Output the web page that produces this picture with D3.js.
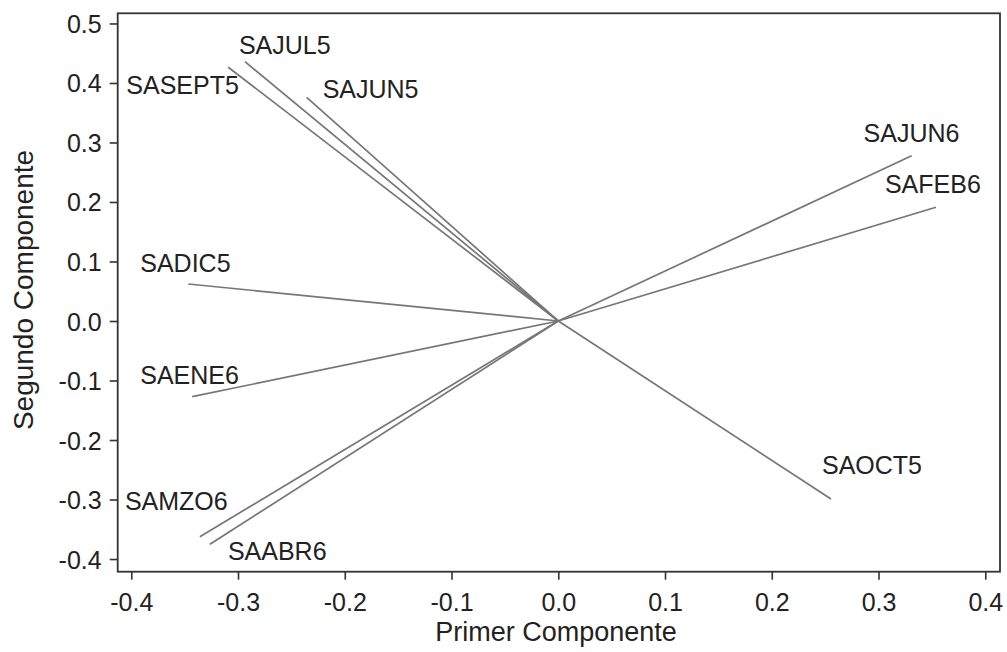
<!DOCTYPE html>
<html>
<head>
<meta charset="utf-8">
<script src="https://cdn.jsdelivr.net/npm/d3@7"></script>
<style>
  html, body { margin: 0; padding: 0; background: #fff; }
  svg { display: block; }
  text { font-family: "Liberation Sans", Arial, sans-serif; fill: #222; }
</style>
</head>
<body>
<svg id="chart" width="1007" height="652"></svg>
<script>
// ---- data ----
const variables = ["SAJUL5", "SASEPT5", "SAJUN5", "SAJUN6", "SAFEB6", "SAOCT5", "SADIC5", "SAENE6", "SAMZO6", "SAABR6"];
const primer    = [-0.2935, -0.3091, -0.2357, 0.3310, 0.3538, 0.2555, -0.3466, -0.3429, -0.3357, -0.3263];
const segundo   = [ 0.4358,  0.4264,  0.3760, 0.2778, 0.1911, -0.2992, 0.0622, -0.1272, -0.3625, -0.3753];
const xTicks = [-0.4, -0.3, -0.2, -0.1, 0.0, 0.1, 0.2, 0.3, 0.4];
const yTicks = [-0.4, -0.3, -0.2, -0.1, 0.0, 0.1, 0.2, 0.3, 0.4, 0.5];
const xTitle = "Primer Componente";
const yTitle = "Segundo Componente";

// ---- layout ----
const L = 117.7, R = 1000, T = 13.3, B = 571.7;
const svg = d3.select("#chart");
const x = d3.scaleLinear().domain([-0.4127, 0.4138]).range([L, R]);
const y = d3.scaleLinear().domain([-0.4213, 0.5171]).range([B, T]);
const fmt = d => d.toFixed(1);

// label offsets (pixels from line end: left x, baseline y)
const labelOffset = {
  SAJUL5: [-6, -8], SASEPT5: [-102, 27], SAJUN5: [16, 1], SAJUN6: [-48, -14],
  SAFEB6: [-51, -14], SAOCT5: [-9, -25], SADIC5: [-48, -12], SAENE6: [-52, -13],
  SAMZO6: [-75, -27], SAABR6: [18, 16]
};

// axes
const xAxis = d3.axisBottom(x).tickValues(xTicks).tickFormat(fmt).tickSize(8).tickSizeOuter(0).tickPadding(14);
const yAxis = d3.axisLeft(y).tickValues(yTicks).tickFormat(fmt).tickSize(8).tickSizeOuter(0).tickPadding(8);

const gx = svg.append("g").attr("transform", `translate(0,${B})`).call(xAxis);
const gy = svg.append("g").attr("transform", `translate(${L},0)`).call(yAxis);
[gx, gy].forEach(g => {
  g.select(".domain").remove();
  g.selectAll(".tick line").attr("stroke", "#333").attr("stroke-width", 1.6);
  g.selectAll(".tick text").attr("font-size", 25).attr("fill", "#222")
    .style("font-family", "'Liberation Sans', Arial, sans-serif");
});
gy.selectAll(".tick text").attr("dy", "0.36em");

// frame
svg.append("rect").attr("x", L).attr("y", T).attr("width", R - L).attr("height", B - T)
  .attr("fill", "none").attr("stroke", "#333").attr("stroke-width", 1.8);

// vectors
const rows = variables.map((v, i) => ({ name: v, px: primer[i], py: segundo[i] }));
svg.append("g").selectAll("line").data(rows).join("line")
  .attr("x1", x(0)).attr("y1", y(0))
  .attr("x2", d => x(d.px)).attr("y2", d => y(d.py))
  .attr("stroke", "#767676").attr("stroke-width", 1.7);

svg.append("g").selectAll("text").data(rows).join("text")
  .attr("x", d => x(d.px) + labelOffset[d.name][0])
  .attr("y", d => y(d.py) + labelOffset[d.name][1])
  .attr("font-size", 25)
  .text(d => d.name);

// titles
svg.append("text").attr("x", 556).attr("y", 641).attr("text-anchor", "middle")
  .attr("font-size", 27).text(xTitle);
svg.append("text").attr("transform", "translate(33,290) rotate(-90)").attr("text-anchor", "middle")
  .attr("font-size", 28).text(yTitle);
</script>
</body>
</html>
